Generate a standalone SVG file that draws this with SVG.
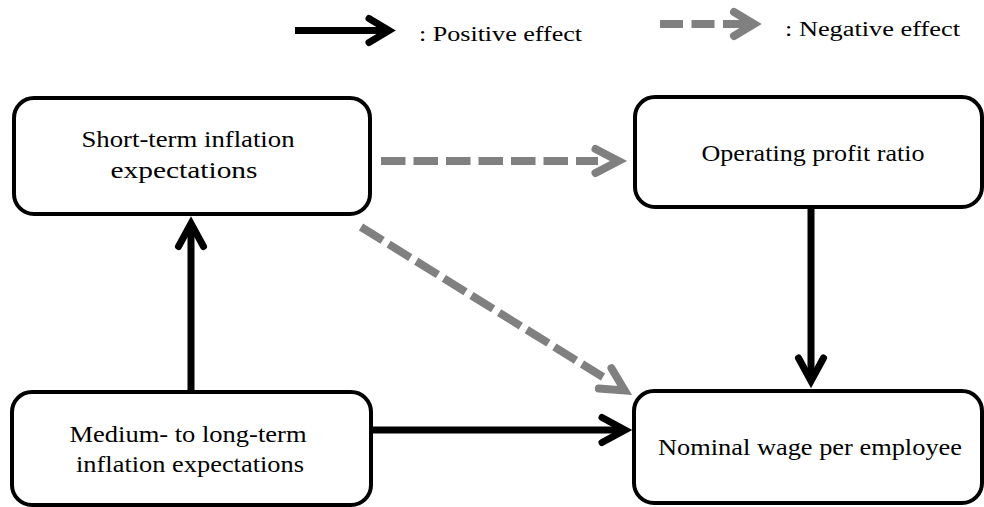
<svg xmlns="http://www.w3.org/2000/svg" width="984" height="507" viewBox="0 0 984 507">
<style>
.box{fill:#fff;stroke:#000;stroke-width:4}
.lbl{font-size:23px;fill:#000;text-anchor:middle}
.leg{font-size:20px;fill:#000}
.pos{fill:none;stroke:#000;stroke-width:7}
.neg{fill:none;stroke:#808080;stroke-width:8;stroke-dasharray:24.5 8}
.hpos{fill:none;stroke:#000;stroke-width:7;stroke-linecap:round;stroke-linejoin:miter;stroke-miterlimit:10}
.hneg{fill:none;stroke:#808080;stroke-width:8;stroke-linecap:round;stroke-linejoin:miter;stroke-miterlimit:10}
</style>
<defs>
<path id="chevP" d="M-23,-12.5 L0,0 L-23,12.5"/>
<path id="chevN" d="M-23,-12 L0,0 L-23,12"/>
<path id="chevL" d="M-20,-12 L0,0 L-20,12"/>
</defs>
<g id="legend" font-family="Liberation Serif, Times New Roman, serif">
<line class="pos" x1="295" y1="30.5" x2="389" y2="30.5"/>
<use href="#chevL" class="hpos" transform="translate(389,30.5)"/>
<text class="leg" x="419" y="41" textLength="163" lengthAdjust="spacingAndGlyphs">: Positive effect</text>
<line class="neg" x1="660" y1="24" x2="747" y2="24" style="stroke-dasharray:23 8.5"/>
<use href="#chevL" class="hneg" transform="translate(754,24)"/>
<text class="leg" x="785" y="36" textLength="175" lengthAdjust="spacingAndGlyphs">: Negative effect</text>
</g>
<g id="connectors">
<line class="pos" x1="191" y1="392" x2="191" y2="224"/>
<use href="#chevP" class="hpos" transform="translate(191,223.5) rotate(-90)"/>
<line class="pos" x1="371" y1="430" x2="625" y2="430"/>
<use href="#chevP" class="hpos" transform="translate(625,430)"/>
<line class="pos" x1="811" y1="207" x2="811" y2="381"/>
<use href="#chevP" class="hpos" transform="translate(811,381) rotate(90)"/>
<line class="neg" x1="381" y1="161" x2="598" y2="161"/>
<use href="#chevN" class="hneg" transform="translate(618.5,161)"/>
<line class="neg" x1="361" y1="227" x2="603" y2="377" style="stroke-dasharray:25.5 7"/>
<use href="#chevN" class="hneg" transform="translate(624.7,390.5) rotate(31.8)"/>
</g>
<g id="nodes" font-family="Liberation Serif, Times New Roman, serif">
<g id="short-term">
<rect class="box" x="14" y="98" width="356" height="116" rx="20"/>
<text class="lbl" x="188" y="147" textLength="213" lengthAdjust="spacingAndGlyphs">Short-term inflation</text>
<text class="lbl" x="184" y="178" textLength="147" lengthAdjust="spacingAndGlyphs">expectations</text>
</g>
<g id="operating-profit">
<rect class="box" x="635" y="97" width="347" height="110" rx="20"/>
<text class="lbl" x="813" y="161" textLength="223" lengthAdjust="spacingAndGlyphs">Operating profit ratio</text>
</g>
<g id="medium-long-term">
<rect class="box" x="12" y="392" width="359" height="113" rx="20"/>
<text class="lbl" x="188" y="442" textLength="237" lengthAdjust="spacingAndGlyphs">Medium- to long-term</text>
<text class="lbl" x="190" y="472" textLength="228" lengthAdjust="spacingAndGlyphs">inflation expectations</text>
</g>
<g id="nominal-wage">
<rect class="box" x="634" y="391" width="348" height="112" rx="20"/>
<text class="lbl" x="810" y="455" textLength="304" lengthAdjust="spacingAndGlyphs">Nominal wage per employee</text>
</g>
</g>
</svg>
